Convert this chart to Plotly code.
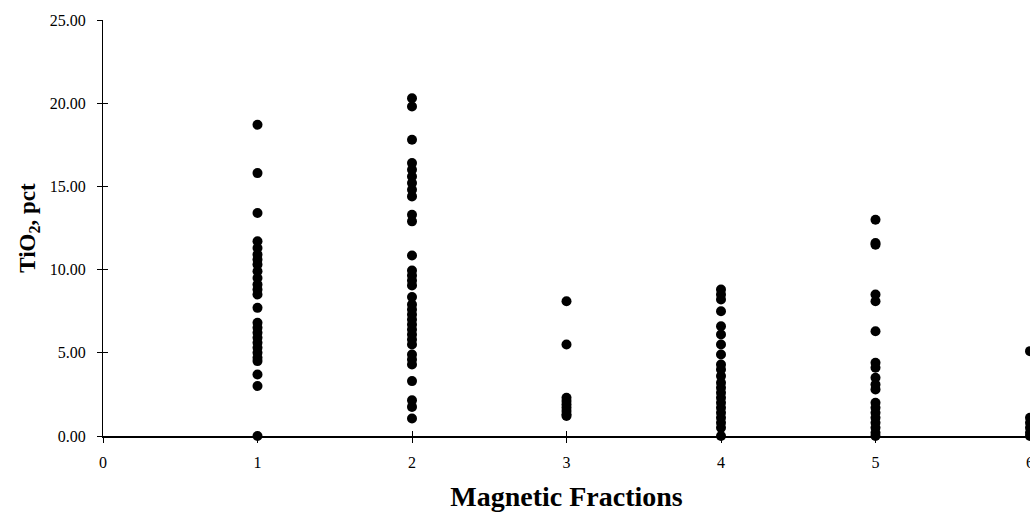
import plotly.graph_objects as go

# Magnetic fraction number and TiO2 (pct) readings per fraction
fraction_1 = [18.7, 15.8, 13.4, 11.7, 11.3, 10.9, 10.6, 10.3, 9.9, 9.5, 9.1, 8.8, 8.5,
              7.7, 6.8, 6.5, 6.2, 5.9, 5.6, 5.3, 5.0, 4.7, 4.5, 3.7, 3.0, 0.0]
fraction_2 = [20.3, 19.8, 17.8, 16.4, 16.0, 15.6, 15.2, 14.8, 14.4, 13.3, 12.9, 10.85,
              9.95, 9.65, 9.35, 9.05, 8.35, 7.9, 7.6, 7.3, 7.0, 6.7, 6.4, 6.1, 5.8, 5.5,
              4.9, 4.6, 4.3, 3.3, 2.15, 1.75, 1.05]
fraction_3 = [8.1, 5.5, 2.3, 2.1, 1.9, 1.7, 1.5, 1.3, 1.2]
fraction_4 = [8.8, 8.5, 8.2, 7.5, 6.6, 6.1, 5.5, 4.9, 4.3, 4.0, 3.6, 3.2, 2.9, 2.6,
              2.3, 2.0, 1.7, 1.4, 1.1, 0.8, 0.5, 0.0]
fraction_5 = [13.0, 11.6, 11.5, 8.5, 8.1, 6.3, 4.4, 4.1, 3.5, 3.1, 2.8, 2.0, 1.7, 1.4,
              1.1, 0.8, 0.5, 0.2, 0.0]
fraction_6 = [5.1, 1.1, 0.8, 0.5, 0.2, 0.0]

fractions = [1, 2, 3, 4, 5, 6]
series = [fraction_1, fraction_2, fraction_3, fraction_4, fraction_5, fraction_6]

x_tick_vals = [0, 1, 2, 3, 4, 5, 6]
y_tick_vals = [0, 5, 10, 15, 20, 25]
y_tick_text = ["0.00", "5.00", "10.00", "15.00", "20.00", "25.00"]

xs, ys = [], []
for f, vals in zip(fractions, series):
    xs.extend([f] * len(vals))
    ys.extend(vals)

FONT = "Liberation Serif, Times New Roman, serif"

fig = go.Figure()
fig.add_trace(go.Scatter(
    x=xs, y=ys, mode="markers",
    marker=dict(size=10, color="black"),
    cliponaxis=False, showlegend=False,
))
# invisible trace on the overlay axes (for crossing tick marks)
fig.add_trace(go.Scatter(x=[None], y=[None], xaxis="x2", yaxis="y2",
                         showlegend=False, hoverinfo="skip"))

fig.update_layout(
    width=1030, height=515,
    margin=dict(l=103, r=0, t=20, b=79),
    paper_bgcolor="white", plot_bgcolor="white",
    font=dict(family=FONT, color="black", size=16),
    xaxis=dict(
        range=[0, 6], tickvals=x_tick_vals, ticktext=[str(v) for v in x_tick_vals],
        showgrid=False, zeroline=False, showline=True, linecolor="black", linewidth=2,
        ticks="outside", ticklen=5, tickcolor="black", tickwidth=1, automargin=False,
        ticklabelstandoff=6, tickfont=dict(size=16, family=FONT),
        ticklabeloverflow="allow",
        title=dict(text="<b>Magnetic Fractions</b>", font=dict(size=28, family=FONT),
                   standoff=16),
    ),
    yaxis=dict(
        range=[0, 25], tickvals=y_tick_vals, ticktext=y_tick_text,
        showgrid=False, zeroline=False, showline=True, linecolor="black", linewidth=1,
        ticks="outside", ticklen=5, tickcolor="black", tickwidth=1, automargin=False,
        ticklabelstandoff=8, tickfont=dict(size=16, family=FONT),
        title=dict(text="<b>TiO<sub>2</sub>, pct</b>", font=dict(size=23, family=FONT),
                   standoff=7),
    ),
    xaxis2=dict(range=[0, 6], tickvals=x_tick_vals, overlaying="x", automargin=False,
                showgrid=False, zeroline=False, showline=False, showticklabels=False,
                ticks="inside", ticklen=5, tickcolor="black", side="bottom"),
    yaxis2=dict(range=[0, 25], tickvals=y_tick_vals, overlaying="y", automargin=False,
                showgrid=False, zeroline=False, showline=False, showticklabels=False,
                ticks="inside", ticklen=5, tickcolor="black", side="left"),
)

fig.write_html(
    "out.html",
    config={"displayModeBar": False},
    post_script="document.body.style.margin='0';document.body.style.overflow='hidden';",
)
